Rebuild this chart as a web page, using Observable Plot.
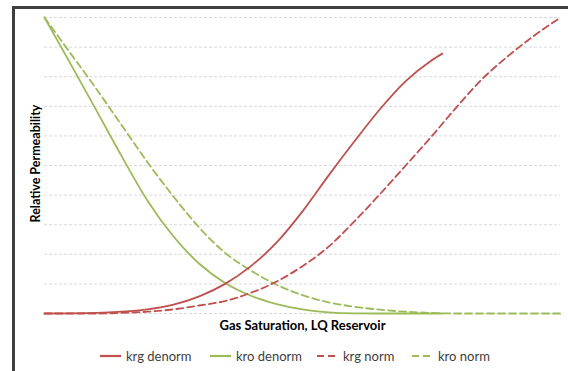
<!DOCTYPE html>
<html>
<head>
<meta charset="utf-8">
<script src="https://cdn.jsdelivr.net/npm/d3@7"></script>
<script src="https://cdn.jsdelivr.net/npm/@observablehq/plot@0.6"></script>
<style>
  html, body { margin: 0; padding: 0; background: #fff; overflow: hidden; width: 568px; height: 371px; }
  #wrap { position: relative; width: 568px; height: 371px; font-family: Lato, "Open Sans", sans-serif; }
  #frame { position: absolute; left: 12px; top: 6px; width: 600px; height: 400px;
           border-left: 3px solid #3f3f3f; border-top: 3px solid #3f3f3f; pointer-events: none; }
  #chart { position: absolute; left: 0; top: 0; }
  #legend { position: absolute; left: 0; top: 348px; width: 568px; height: 16px;
            font-size: 13px; color: #404040; }
  .item { position: absolute; top: 0; display: flex; align-items: center; white-space: nowrap; }
  .item svg { margin-right: 5px; }
</style>
</head>
<body>
<div id="wrap">
  <div id="chart"></div>
  <div id="frame"></div>
  <div id="legend"></div>
</div>
<script>
// ---- data ----
const yTicks = [0, 0.1, 0.2, 0.3, 0.4, 0.5, 0.6, 0.7, 0.8, 0.9, 1.0];

const satKrgDenorm = [0, 0.1, 0.15, 0.2, 0.25, 0.3, 0.35, 0.4, 0.45, 0.5, 0.55, 0.6, 0.65, 0.7, 0.75, 0.771];
const krgDenorm    = [0, 0.002, 0.006, 0.014, 0.03, 0.058, 0.1, 0.16, 0.24, 0.345, 0.465, 0.58, 0.69, 0.785, 0.855, 0.878];

const satKroDenorm = [0, 0.05, 0.1, 0.15, 0.2, 0.25, 0.3, 0.35, 0.4, 0.45, 0.5, 0.55, 0.6, 0.65, 0.771];
const kroDenorm    = [1, 0.845, 0.688, 0.53, 0.38, 0.26, 0.168, 0.103, 0.06, 0.032, 0.014, 0.004, 0.0005, 0, 0];

const satKrgNorm = [0, 0.1, 0.15, 0.2, 0.25, 0.3, 0.35, 0.4, 0.45, 0.5, 0.55, 0.6, 0.65, 0.7, 0.75, 0.8, 0.85, 0.9, 0.95, 1.0];
const krgNorm    = [0, 0, 0.002, 0.006, 0.014, 0.027, 0.042, 0.07, 0.108, 0.16, 0.225, 0.31, 0.403, 0.5, 0.598, 0.7, 0.795, 0.872, 0.94, 1.0];

const satKroNorm = [0, 0.05, 0.1, 0.15, 0.2, 0.25, 0.3, 0.35, 0.4, 0.45, 0.5, 0.55, 0.6, 0.65, 0.7, 0.75, 0.8, 1.0];
const kroNorm    = [1, 0.88, 0.76, 0.635, 0.51, 0.395, 0.29, 0.205, 0.145, 0.097, 0.062, 0.038, 0.023, 0.013, 0.006, 0.002, 0, 0];

const seriesNames = ["krg denorm", "kro denorm", "krg norm", "kro norm"];
const xLabel = "Gas Saturation, LQ Reservoir";
const yLabel = "Relative Permeability";

// ---- styles ----
const RED = "#c0504d", GREEN = "#9bbb59";
const styles = [
  {stroke: RED, dash: null, left: 100},
  {stroke: GREEN, dash: null, left: 210},
  {stroke: RED, dash: "7,4", left: 317},
  {stroke: GREEN, dash: "7,4", left: 412}
];
const toRows = (xs, ys) => xs.map((s, i) => ({s, k: ys[i]}));
const series = [
  toRows(satKrgDenorm, krgDenorm),
  toRows(satKroDenorm, kroDenorm),
  toRows(satKrgNorm, krgNorm),
  toRows(satKroNorm, kroNorm)
];

const lineMarks = series.map((rows, i) => Plot.line(rows, {
  x: "s", y: "k", stroke: styles[i].stroke, strokeWidth: 1.8,
  strokeDasharray: styles[i].dash || undefined, curve: "monotone-x"
}));

const chart = Plot.plot({
  width: 568, height: 338,
  marginLeft: 44, marginRight: 8, marginTop: 17, marginBottom: 25,
  x: {domain: [0, 1], axis: null},
  y: {domain: [0, 1], axis: null},
  style: {fontFamily: "Lato, 'Open Sans', sans-serif", background: "transparent", overflow: "visible"},
  marks: [
    Plot.gridY(yTicks, {stroke: "#d9d9d9", strokeOpacity: 1, strokeDasharray: "3,2"}),
    lineMarks[1], lineMarks[3], lineMarks[2], lineMarks[0],
    Plot.text([xLabel], {frameAnchor: "bottom", dy: 12, lineAnchor: "middle", textAnchor: "middle",
      fontWeight: "bold", fontSize: 13, fill: "#000"}),
    Plot.text([yLabel], {frameAnchor: "left", dx: -9, dy: -2, rotate: -90, textAnchor: "middle", lineAnchor: "middle",
      fontWeight: "bold", fontSize: 12.5, fill: "#000"})
  ]
});
document.getElementById("chart").appendChild(chart);

// ---- legend ----
const legend = document.getElementById("legend");
seriesNames.forEach((name, i) => {
  const item = document.createElement("div");
  item.className = "item";
  item.style.left = styles[i].left + "px";
  const dash = styles[i].dash ? `stroke-dasharray="7,4"` : "";
  item.innerHTML = `<svg width="21" height="10"><line x1="0" x2="21" y1="5" y2="5" stroke="${styles[i].stroke}" stroke-width="2.2" ${dash}/></svg><span>${name}</span>`;
  legend.appendChild(item);
});
</script>
</body>
</html>
